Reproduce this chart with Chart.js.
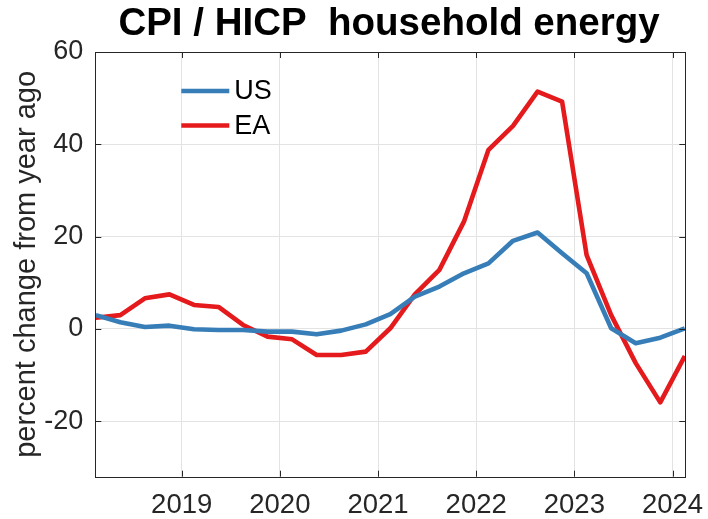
<!DOCTYPE html>
<html>
<head>
<meta charset="utf-8">
<script src="https://cdn.jsdelivr.net/npm/chart.js@4.4.1/dist/chart.umd.min.js"></script>
<style>
    html, body { margin: 0; padding: 0; background: #fff; }
    #wrap { width: 708px; height: 519px; }
</style>
</head>
<body>
<div id="wrap"><canvas id="cpiChart" width="708" height="519"></canvas></div>
<script>
// Quarterly observations, year-over-year % change
const quarters = ['2018Q1', '2018Q2', '2018Q3', '2018Q4', '2019Q1', '2019Q2', '2019Q3', '2019Q4',
    '2020Q1', '2020Q2', '2020Q3', '2020Q4', '2021Q1', '2021Q2', '2021Q3', '2021Q4',
    '2022Q1', '2022Q2', '2022Q3', '2022Q4', '2023Q1', '2023Q2', '2023Q3', '2023Q4', '2024Q1'];
const usValues = [3.0, 1.45, 0.43, 0.72, -0.07, -0.22, -0.22, -0.58, -0.58, -1.16, -0.36, 1.0,
    3.2, 7.0, 9.2, 12.06, 14.2, 19.1, 20.9, 16.4, 12.06, 0.15, -3.1, -1.88, 0.15];
const eaValues = [2.45, 3.0, 6.65, 7.5, 5.2, 4.77, 0.87, -1.66, -2.24, -5.63, -5.63, -4.9,
    0.15, 7.5, 12.8, 23.25, 38.8, 44.0, 51.4, 49.25, 16.0, 3.0, -7.4, -15.9, -5.85];
const xTicks = [2019, 2020, 2021, 2022, 2023, 2024];
const yTicks = [-20, 0, 20, 40, 60];

const FONT = "'Liberation Sans', Arial, Helvetica, sans-serif";
const AXIS_COLOR = '#262626';

// mid-quarter position on a year axis
function quarterToYear(q) {
    const year = parseInt(q.slice(0, 4), 10);
    const n = parseInt(q.slice(5), 10);
    return year + (n - 1) / 4 + 0.125;
}

function toPoints(values) {
    return values.map((v, i) => ({ x: quarterToYear(quarters[i]), y: v }));
}

// box, inward ticks, in-axes legend and title (MATLAB look)
const matlabFrame = {
    id: 'matlabFrame',
    afterDatasetsDraw(chart) {
        const ctx = chart.ctx;
        const { left, right, top, bottom } = chart.chartArea;
        const xs = chart.scales.x;
        const ys = chart.scales.y;
        const tick = 6;

        ctx.save();
        ctx.strokeStyle = AXIS_COLOR;
        ctx.lineWidth = 1;
        ctx.strokeRect(Math.round(left) + 0.5, Math.round(top) + 0.5,
            Math.round(right - left), Math.round(bottom - top));

        ctx.beginPath();
        xTicks.forEach(v => {
            const px = Math.round(xs.getPixelForValue(v)) + 0.5;
            ctx.moveTo(px, bottom); ctx.lineTo(px, bottom - tick);
            ctx.moveTo(px, top); ctx.lineTo(px, top + tick);
        });
        yTicks.forEach(v => {
            const py = Math.round(ys.getPixelForValue(v)) + 0.5;
            ctx.moveTo(left, py); ctx.lineTo(left + tick, py);
            ctx.moveTo(right, py); ctx.lineTo(right - tick, py);
        });
        ctx.stroke();

        // Legend inside the axes
        const lx = left + 86;
        let ly = top + 39;
        ctx.font = '27px ' + FONT;
        ctx.textBaseline = 'middle';
        ctx.textAlign = 'left';
        chart.data.datasets.forEach(ds => {
            ctx.strokeStyle = ds.borderColor;
            ctx.lineWidth = 4.5;
            ctx.beginPath();
            ctx.moveTo(lx, ly);
            ctx.lineTo(lx + 48, ly);
            ctx.stroke();
            ctx.fillStyle = '#000';
            ctx.fillText(ds.label, lx + 53, ly + 1);
            ly += 34.5;
        });

        // Title
        ctx.font = 'bold 38.5px ' + FONT;
        ctx.textAlign = 'center';
        ctx.textBaseline = 'alphabetic';
        ctx.fillStyle = '#000';
        ctx.fillText('CPI / HICP  household energy', 389, 35);
        ctx.restore();
    }
};

document.addEventListener('DOMContentLoaded', function() {
    const ctx = document.getElementById('cpiChart').getContext('2d');
    new Chart(ctx, {
        type: 'line',
        data: {
            datasets: [{
                label: 'US',
                data: toPoints(usValues),
                borderColor: '#377eb8',
                borderWidth: 4.6,
                pointRadius: 0,
                tension: 0,
                borderJoinStyle: 'round'
            }, {
                label: 'EA',
                data: toPoints(eaValues),
                borderColor: '#e41a1c',
                borderWidth: 4.6,
                pointRadius: 0,
                tension: 0,
                borderJoinStyle: 'round'
            }]
        },
        options: {
            responsive: false,
            animation: false,
            devicePixelRatio: 1,
            layout: {
                padding: { top: 52, right: 22.7, left: 0, bottom: 0 }
            },
            plugins: {
                legend: { display: false },
                title: { display: false },
                tooltip: { enabled: false }
            },
            scales: {
                x: {
                    type: 'linear',
                    min: 2018.12,
                    max: 2024.13,
                    afterBuildTicks: scale => { scale.ticks = xTicks.map(v => ({ value: v })); },
                    afterFit: scale => {
                        scale.height = 42.3;
                        scale.paddingLeft = 0;
                        scale.paddingRight = 0;
                    },
                    grid: { color: '#e3e3e3', lineWidth: 1, drawTicks: false },
                    border: { display: false },
                    ticks: {
                        color: AXIS_COLOR,
                        font: { family: FONT, size: 27.5 },
                        padding: 12,
                        maxRotation: 0,
                        callback: v => String(v)
                    }
                },
                y: {
                    min: -32,
                    max: 60,
                    afterBuildTicks: scale => { scale.ticks = yTicks.map(v => ({ value: v })); },
                    afterFit: scale => {
                        scale.width = 95.3;
                        scale.paddingTop = 0;
                        scale.paddingBottom = 0;
                    },
                    grid: { color: '#e3e3e3', lineWidth: 1, drawTicks: false },
                    border: { display: false },
                    ticks: {
                        color: AXIS_COLOR,
                        font: { family: FONT, size: 27 },
                        padding: 12,
                        callback: v => String(v)
                    },
                    title: {
                        display: true,
                        text: 'percent change from year ago',
                        color: AXIS_COLOR,
                        font: { family: FONT, size: 29 },
                        padding: { top: 10, bottom: 0 }
                    }
                }
            }
        },
        plugins: [matlabFrame]
    });
});
</script>
</body>
</html>
